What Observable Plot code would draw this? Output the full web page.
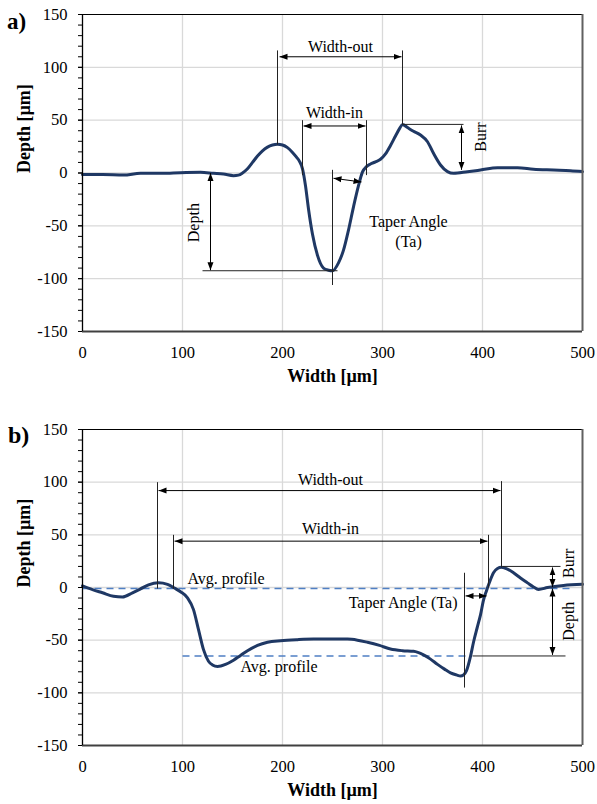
<!DOCTYPE html>
<html><head><meta charset="utf-8">
<script src="https://cdn.jsdelivr.net/npm/d3@7"></script>
<script src="https://cdn.jsdelivr.net/npm/@observablehq/plot@0.6"></script>
<style>
body{margin:0;background:#fff;}
#wrap{position:relative;width:597px;height:804px;overflow:hidden;font-family:"Liberation Serif","Times New Roman",serif;color:#000;}
.panel{position:absolute;left:0;}
.panel text{font-family:"Liberation Serif","Times New Roman",serif;}
.tag{position:absolute;font-weight:bold;line-height:1;font-family:"Liberation Serif","Times New Roman",serif;}
</style></head><body>
<div id="wrap"></div>
<script>
// ---------- data ----------
const xTicks = [0, 100, 200, 300, 400, 500];
const yTicks = [-150, -100, -50, 0, 50, 100, 150];
const yMinorTicks = d3.range(-150, 151, 10);
const xLabel = "Width [µm]";
const yLabel = "Depth [µm]";

// Panel a profile
const profileAX = [0, 20, 41, 58, 80, 98, 118, 131, 141, 151, 156, 160, 165, 170, 175, 180, 185, 190, 195, 200, 205, 210, 214, 217, 220, 223, 226, 230, 235, 241, 246, 250, 256, 261, 266, 271, 276, 280, 284, 288, 293, 298, 303, 308, 313, 317, 320, 325, 331, 338, 345, 351, 358, 365, 371, 385, 398, 415, 435, 451, 471, 488, 500];
const profileAY = [-1.5, -1.5, -2, -0.3, -0.3, 0.3, 0.6, -0.3, -1, -2.5, -2, 0, 4, 10, 16, 21, 24.5, 26.5, 27.2, 26.5, 24, 19.5, 15, 11, 4, -12, -34, -58, -78, -90, -92, -92.5, -85, -73, -54, -32, -12, 1, 6, 8.5, 10.5, 13, 18, 26, 35, 42, 46, 43, 39.5, 36, 29.6, 18.6, 7.6, 1.3, -0.3, 1.2, 2.8, 5, 5, 3.5, 2.8, 2.2, 1.3];

// Panel b profile
const profileBX = [0, 10, 20, 31, 40, 50, 58, 66, 76, 85, 92, 98, 105, 111, 116, 121, 126, 130, 135, 143, 151, 158, 165, 175, 185, 198, 215, 231, 250, 265, 275, 285, 297, 308, 320, 331, 341, 348, 355, 362, 368, 374, 378, 381, 384, 388, 391, 395, 398, 401, 404, 407, 411, 415, 419, 425, 431, 438, 445, 451, 456, 465, 481, 500];
const profileBY = [1.5, -2, -5, -8.3, -9, -5, -1.3, 2.5, 4.5, 3, -0.5, -4, -9.8, -21, -40, -59, -70, -73.5, -75, -73, -69, -64.5, -60, -55, -52, -50.5, -49.5, -49, -49, -49, -50, -52, -55, -58.4, -60, -60.6, -64, -68, -73, -77.5, -81, -83, -84, -83, -79, -65.4, -52, -37, -26, -12, -3, 5, 14, 18, 19.2, 17.5, 14, 9, 4.4, 0.5, -1.8, 0, 2, 3];

// Panel a annotations [x1, y1, x2, y2]
const aLines = [[195, 27, 195, 116], [320, 46, 320, 116], [220, -2, 220, 50], [284, -2, 284, 50], [320, 46, 381, 46], [120, -92.5, 255, -92.5], [250, 3, 250, -106]];
const aArrows = [[197, 110, 319, 110], [221, 44.5, 283, 44.5], [379, 45, 379, 3], [128, 0, 128, -92], [251, -5, 279, -8.5]];
const aTexts = [["Width-out", 258, 119], ["Width-in", 252, 57], ["Taper Angle", 326, -46], ["(Ta)", 326, -65.5]];
const aVTexts = [["Burr", 398, 34], ["Depth", 111, -47]];

// Panel b annotations
const bLines = [[75, -1, 75, 100], [419, 19, 419, 101], [91, -1, 91, 50], [406, 0, 406, 50], [420, 20, 478, 20], [390, -65, 483, -65], [382, 14, 382, -95]];
const bDashed = [[0, -1, 490, -1], [100, -65, 385, -65]];
const bArrows = [[76, 92, 418, 92], [92, 44, 405, 44], [470, 19, 470, 0.5], [470, -1, 470, -64], [383, -8, 404, -8]];
const bTexts = [["Width-out", 248, 102], ["Width-in", 248, 56]];
const bLeftTexts = [["Avg. profile", 105, 8], ["Avg. profile", 158, -75]];
const bRightTexts = [["Taper Angle (Ta)", 375, -14.5]];
const bVTexts = [["Burr", 486, 23], ["Depth", 486, -32]];

// ---------- drawing ----------
const FONT = '"Liberation Serif","Times New Roman",serif';
const fmt = d => (d < 0 ? "-" + Math.abs(d) : String(d));

function arrowHead(color) {
  const m = d3.create("svg:marker")
    .attr("viewBox", "-8 -3.5 8 7")
    .attr("markerWidth", 8)
    .attr("markerHeight", 7)
    .attr("markerUnits", "userSpaceOnUse")
    .attr("refX", 0).attr("refY", 0)
    .attr("orient", "auto-start-reverse")
    .attr("fill", color).attr("stroke", "none");
  m.append("path").attr("d", "M0,0L-8,-3L-8,3Z");
  return m.node();
}

const x1 = d => d[0], y1 = d => d[1], x2 = d => d[2], y2 = d => d[3];

function panel({X, Y, lines, arrows, dashed, texts, leftTexts, rightTexts, vtexts, height, marginTop, marginBottom, xLabelDy}) {
  const idx = d3.range(X.length);
  const marks = [
    Plot.gridX([100, 200, 300, 400], {stroke: "#d9d9d9", strokeOpacity: 1, strokeWidth: 1.3}),
    Plot.gridY([-100, -50, 0, 50, 100], {stroke: "#d9d9d9", strokeOpacity: 1, strokeWidth: 1.3}),
  ];
  if (dashed) marks.push(Plot.link(dashed, {x1, y1, x2, y2, stroke: "#4f7fc4", strokeWidth: 1.6, strokeDasharray: "7,5"}));
  marks.push(
    Plot.line(idx, {x: i => X[i], y: i => Y[i], stroke: "#1f3864", strokeWidth: 3, curve: "monotone-x"}),
    Plot.link(lines, {x1, y1, x2, y2, stroke: "#222", strokeWidth: 1}),
    Plot.link(arrows, {x1, y1, x2, y2, stroke: "#000", strokeWidth: 1, markerStart: arrowHead, markerEnd: arrowHead}),
    Plot.ruleY([150], {stroke: "#000", strokeWidth: 1.2}),
    Plot.ruleY([-150], {stroke: "#404040", strokeWidth: 2}),
    Plot.ruleX([500], {stroke: "#606060", strokeWidth: 2}),
    Plot.ruleX([0], {stroke: "#000", strokeWidth: 1.3}),
    Plot.axisY(yMinorTicks, {tickSize: 4, tickFormat: () => "", stroke: "#000", label: null}),
    Plot.axisY(yTicks, {tickSize: 4, tickPadding: 11, tickFormat: fmt, fontSize: 16.5, label: null}),
    Plot.axisX(xTicks, {tickSize: 0, tickPadding: 15, fontSize: 16.5, label: null}),
    Plot.text([yLabel], {frameAnchor: "left", dx: -58, rotate: -90, lineAnchor: "middle", fontWeight: "bold", fontSize: 18}),
    Plot.text([xLabel], {frameAnchor: "bottom", dy: xLabelDy, lineAnchor: "middle", fontWeight: "bold", fontSize: 18}),
    Plot.text(texts, {x: d => d[1], y: d => d[2], text: d => d[0], fontSize: 16, textAnchor: "middle"}),
    Plot.text(vtexts, {x: d => d[1], y: d => d[2], text: d => d[0], fontSize: 16, rotate: -90, textAnchor: "middle"})
  );
  if (leftTexts) marks.push(Plot.text(leftTexts, {x: d => d[1], y: d => d[2], text: d => d[0], fontSize: 16, textAnchor: "start"}));
  if (rightTexts) marks.push(Plot.text(rightTexts, {x: d => d[1], y: d => d[2], text: d => d[0], fontSize: 16, textAnchor: "end"}));
  const svg = Plot.plot({
    width: 597, height, marginLeft: 82, marginRight: 15, marginTop, marginBottom,
    x: {domain: [0, 500]}, y: {domain: [-150, 150]},
    style: `font-family: ${FONT}; font-size: 16px; color: #000; background: transparent; overflow: visible;`,
    marks
  });
  svg.setAttribute("font-family", FONT);
  return svg;
}

const wrap = document.getElementById("wrap");
const pa = panel({X: profileAX, Y: profileAY, lines: aLines, arrows: aArrows, texts: aTexts, vtexts: aVTexts, height: 395, marginTop: 14, marginBottom: 64, xLabelDy: 45});
pa.classList.add("panel"); pa.style.top = "0px"; pa.style.position = "absolute"; pa.style.left = "0px"; wrap.appendChild(pa);
const pb = panel({X: profileBX, Y: profileBY, lines: bLines, arrows: bArrows, dashed: bDashed, texts: bTexts, leftTexts: bLeftTexts, rightTexts: bRightTexts, vtexts: bVTexts, height: 404, marginTop: 29, marginBottom: 59, xLabelDy: 45});
pb.classList.add("panel"); pb.style.top = "400px"; pb.style.position = "absolute"; pb.style.left = "0px"; wrap.appendChild(pb);

const ta = document.createElement("div"); ta.className = "tag"; ta.textContent = "a)";
ta.style.cssText += "left:7px;top:10px;font-size:23px;"; wrap.appendChild(ta);
const tb = document.createElement("div"); tb.className = "tag"; tb.textContent = "b)";
tb.style.cssText += "left:8px;top:423px;font-size:24px;"; wrap.appendChild(tb);
</script>
</body></html>
